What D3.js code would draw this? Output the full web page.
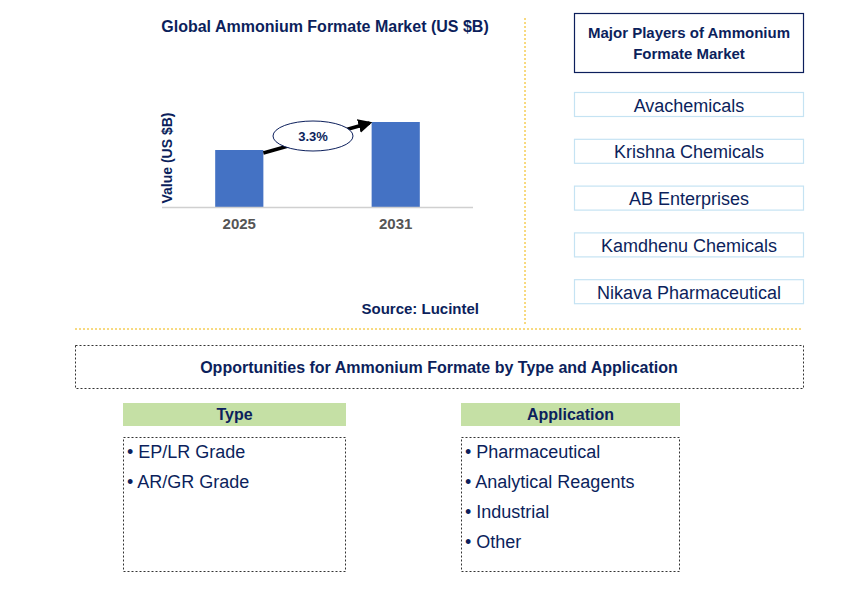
<!DOCTYPE html>
<html><head><meta charset="utf-8">
<script src="https://cdn.jsdelivr.net/npm/d3@7"></script>
<style>body{margin:0;background:#fff}svg{font-family:Arial,"Liberation Sans",sans-serif}</style>
</head><body>
<svg id="c" width="868" height="592"></svg>
<script>
var years = ["2025", "2031"];
var values = [0.57, 0.85];
var cagr = "3.3%";
var players = ["Avachemicals", "Krishna Chemicals", "AB Enterprises", "Kamdhenu Chemicals", "Nikava Pharmaceutical"];
var types = ["EP/LR Grade", "AR/GR Grade"];
var applications = ["Pharmaceutical", "Analytical Reagents", "Industrial", "Other"];

var svg = d3.select("#c");
var navy = "#0c1f5c";

svg.append("text").attr("x", 325).attr("y", 32).attr("text-anchor", "middle")
  .attr("font-size", 16).attr("font-weight", "bold").attr("fill", navy)
  .text("Global Ammonium Formate Market (US $B)");

var x = d3.scaleBand().domain(years).range([162, 473]).paddingInner(0.692).paddingOuter(0.34);
var y = d3.scaleLinear().domain([0, 1]).range([207, 107]);

svg.selectAll("rect.bar").data(values).join("rect").attr("class", "bar")
  .attr("x", (d, i) => x(years[i])).attr("width", x.bandwidth())
  .attr("y", d => y(d)).attr("height", d => y(0) - y(d)).attr("fill", "#4472c4");

svg.append("line").attr("x1", 162).attr("x2", 473).attr("y1", 207.5).attr("y2", 207.5)
  .attr("stroke", "#d0d0d0").attr("stroke-width", 1.5);

svg.selectAll("text.yr").data(years).join("text").attr("class", "yr")
  .attr("x", d => x(d) + x.bandwidth() / 2).attr("y", 229).attr("text-anchor", "middle")
  .attr("font-size", 15).attr("font-weight", "bold").attr("fill", "#555").text(d => d);

svg.append("text").attr("transform", "translate(172,158) rotate(-90)").attr("text-anchor", "middle")
  .attr("font-size", 14).attr("font-weight", "bold").attr("fill", navy).text("Value (US $B)");

svg.append("defs").append("marker").attr("id", "ah").attr("viewBox", "0 0 10 10")
  .attr("refX", 8).attr("refY", 5).attr("markerWidth", 4).attr("markerHeight", 4).attr("orient", "auto")
  .append("path").attr("d", "M0,0L10,5L0,10z").attr("fill", "#000");
var x0 = x(years[0]) + x.bandwidth(), x1 = x(years[1]);
svg.append("line").attr("x1", x0).attr("y1", y(values[0]) + 3).attr("x2", x1 - 2).attr("y2", y(values[1]) + 1)
  .attr("stroke", "#000").attr("stroke-width", 3.5).attr("marker-end", "url(#ah)");
svg.append("ellipse").attr("cx", 313).attr("cy", 136).attr("rx", 40).attr("ry", 15)
  .attr("fill", "#fff").attr("stroke", navy).attr("stroke-width", 1);
svg.append("text").attr("x", 313).attr("y", 141).attr("text-anchor", "middle")
  .attr("font-size", 13).attr("font-weight", "bold").attr("fill", navy).text(cagr);

svg.append("text").attr("x", 479).attr("y", 314).attr("text-anchor", "end")
  .attr("font-size", 15).attr("font-weight", "bold").attr("fill", navy).text("Source: Lucintel");

var gold = "#f0b400";
svg.append("line").attr("x1", 525).attr("x2", 525).attr("y1", 18).attr("y2", 326)
  .attr("stroke", gold).attr("stroke-dasharray", "2,2");
svg.append("line").attr("x1", 75).attr("x2", 803).attr("y1", 329).attr("y2", 329)
  .attr("stroke", gold).attr("stroke-dasharray", "2,2");

svg.append("rect").attr("x", 574.5).attr("y", 13.5).attr("width", 229).attr("height", 59)
  .attr("fill", "#fff").attr("stroke", navy).attr("stroke-width", 1.2);
svg.append("text").attr("x", 689).attr("y", 38).attr("text-anchor", "middle")
  .attr("font-size", 15).attr("font-weight", "bold").attr("fill", navy).text("Major Players of Ammonium");
svg.append("text").attr("x", 689).attr("y", 59).attr("text-anchor", "middle")
  .attr("font-size", 15).attr("font-weight", "bold").attr("fill", navy).text("Formate Market");

var pg = svg.selectAll("g.pl").data(players).join("g").attr("class", "pl")
  .attr("transform", (d, i) => "translate(574.5," + (92.5 + i * 46.8) + ")");
pg.append("rect").attr("width", 229).attr("height", 24).attr("fill", "#fff").attr("stroke", "#c5e3f3").attr("stroke-width", 1.2);
pg.append("text").attr("x", 114.5).attr("y", 19).attr("text-anchor", "middle")
  .attr("font-size", 18).attr("fill", navy).text(d => d);

svg.append("rect").attr("x", 75.5).attr("y", 345.5).attr("width", 728).attr("height", 43)
  .attr("fill", "#fff").attr("stroke", "#333").attr("stroke-dasharray", "2,2");
svg.append("text").attr("x", 439).attr("y", 373).attr("text-anchor", "middle")
  .attr("font-size", 16).attr("font-weight", "bold").attr("fill", navy)
  .text("Opportunities for Ammonium Formate by Type and Application");

function panel(x0, w, title, items) {
  svg.append("rect").attr("x", x0).attr("y", 403).attr("width", w).attr("height", 23).attr("fill", "#c5e0a5");
  svg.append("text").attr("x", x0 + w / 2).attr("y", 420).attr("text-anchor", "middle")
    .attr("font-size", 16).attr("font-weight", "bold").attr("fill", navy).text(title);
  svg.append("rect").attr("x", x0 + 0.5).attr("y", 437.5).attr("width", w - 1).attr("height", 134)
    .attr("fill", "#fff").attr("stroke", "#333").attr("stroke-dasharray", "2,2");
  svg.selectAll(null).data(items).join("text").attr("x", x0 + 4).attr("y", (d, i) => 458 + i * 30)
    .attr("font-size", 18).attr("fill", navy).text(d => "\u2022 " + d);
}
panel(123, 223, "Type", types);
panel(461, 219, "Application", applications);
</script>
</body></html>
